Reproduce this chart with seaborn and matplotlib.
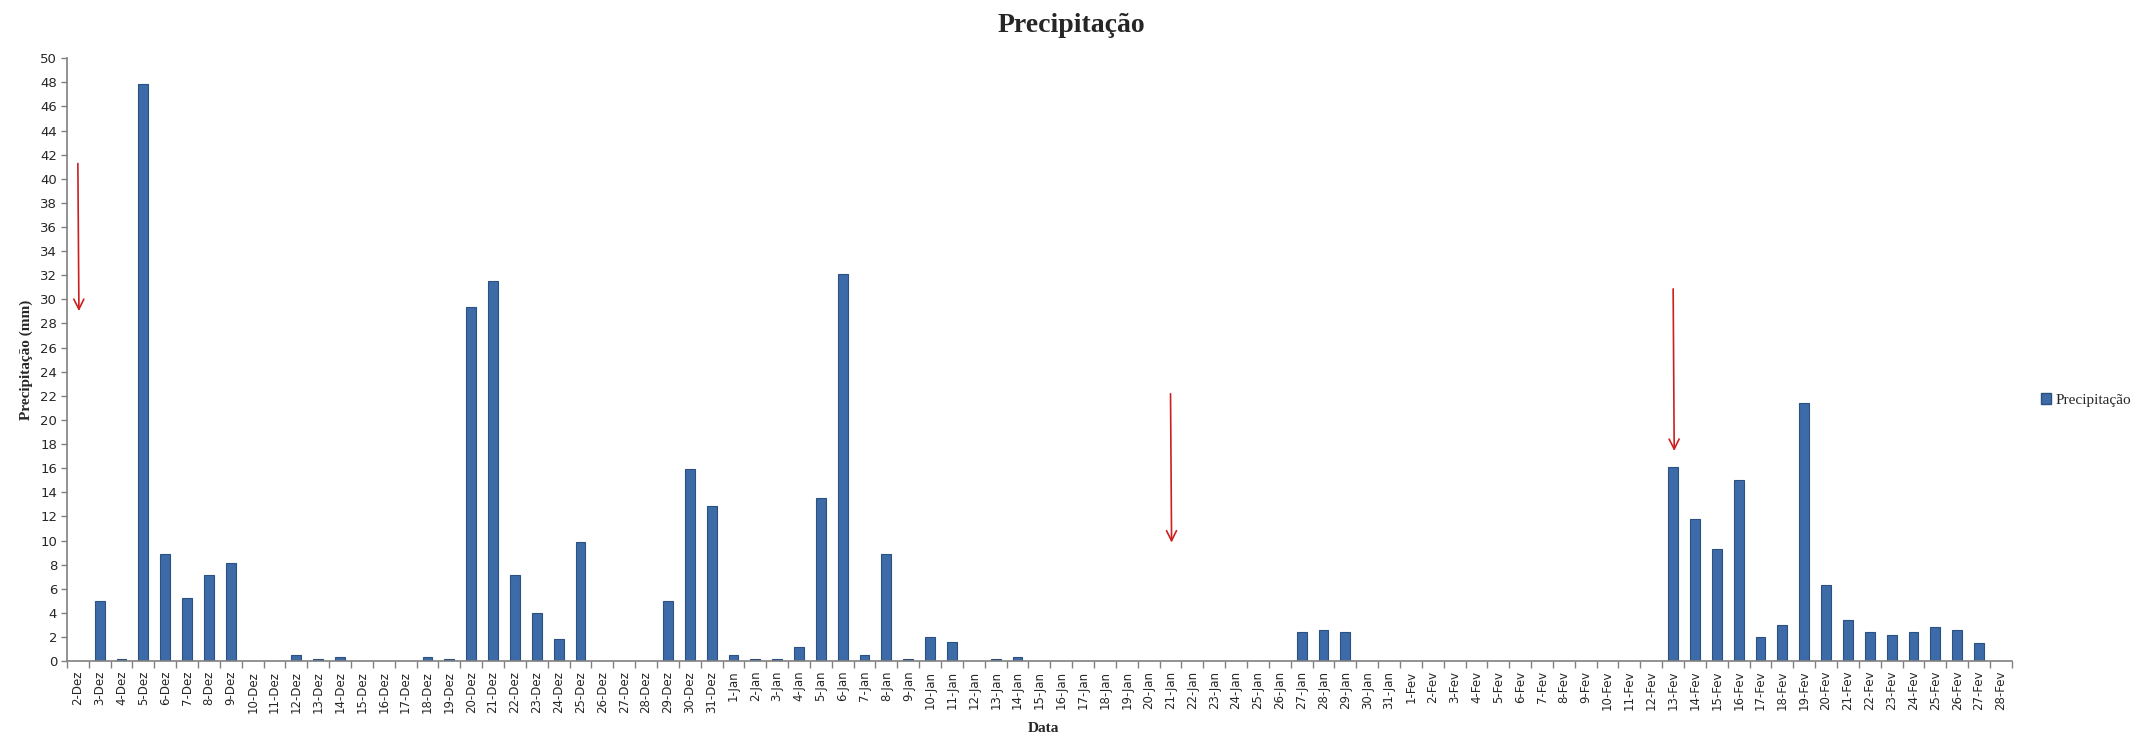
import numpy as np
import pandas as pd
import matplotlib
matplotlib.use("Agg")
import matplotlib.pyplot as plt
from matplotlib.patches import Patch
import seaborn as sns

# Daily dates, December to February
dez_days = [f"{d}-Dez" for d in range(2, 32)]
jan_days = [f"{d}-Jan" for d in range(1, 32)]
fev_days = [f"{d}-Fev" for d in range(1, 29)]
datas = dez_days + jan_days + fev_days

# Daily rainfall (mm)
chuva_dez = [0, 5.0, 0.2, 47.9, 8.9, 5.2, 7.1, 8.1, 0, 0,
             0.5, 0.15, 0.3, 0, 0, 0, 0.3, 0.15, 29.4, 31.5,
             7.1, 4.0, 1.8, 9.9, 0, 0, 0, 5.0, 15.9, 12.9]
chuva_jan = [0.5, 0.15, 0.15, 1.2, 13.5, 32.1, 0.5, 8.9, 0.15, 2.0,
             1.6, 0, 0.15, 0.3, 0, 0, 0, 0, 0, 0,
             0, 0, 0, 0, 0, 0, 2.4, 2.6, 2.4, 0, 0]
chuva_fev = [0, 0, 0, 0, 0, 0, 0, 0, 0, 0,
             0, 0, 16.1, 11.8, 9.3, 15.0, 2.0, 3.0, 21.4, 6.3,
             3.4, 2.4, 2.2, 2.4, 2.8, 2.6, 1.5, 0]
chuva = chuva_dez + chuva_jan + chuva_fev

# Highlighted days (arrow start/end values in mm)
destaques = ["2-Dez", "21-Jan", "13-Fev"]
seta_inicio = [41.5, 22.4, 31.1]
seta_fim = [28.8, 9.6, 17.2]

df = pd.DataFrame({"Data": datas, "Precipitação": chuva})

sns.set_theme(style="white")
plt.rcParams["font.family"] = ["DejaVu Sans"]

fig = plt.figure(figsize=(21.38, 7.37), dpi=100)
ax = fig.add_axes([0.0313, 0.103, 0.9097, 0.818])

cor_barra = "#3D6BA8"
sns.barplot(data=df, x="Data", y="Precipitação", color=cor_barra,
            width=0.45, saturation=1, edgecolor="#2B5183", linewidth=0.8, ax=ax)

ax.set_xlim(-0.5, len(datas) - 0.5)
ax.set_ylim(0, 50)
ax.set_yticks(np.arange(0, 51, 2))
ax.tick_params(axis="y", labelsize=9.5, length=4, width=1, color="#808080",
               left=True, pad=3)

# Category ticks: labels centred, tick marks on the boundaries
ax.set_xticks(np.arange(len(datas)))
ax.set_xticklabels(datas, rotation=90, fontsize=8.5)
ax.tick_params(axis="x", which="major", length=0, pad=7)
ax.set_xticks(np.arange(-0.5, len(datas), 1), minor=True)
ax.tick_params(axis="x", which="minor", length=5, width=1, color="#808080",
               bottom=True)

for s in ["top", "right"]:
    ax.spines[s].set_visible(False)
for s in ["left", "bottom"]:
    ax.spines[s].set_color("#808080")
    ax.spines[s].set_linewidth(1.2)

ax.set_xlabel("")
ax.set_ylabel("Precipitação (mm)", family="Liberation Serif", fontweight="bold",
              fontsize=11, labelpad=5)

fig.text(0.488, 0.012, "Data", family="Liberation Serif", fontweight="bold",
         fontsize=11, ha="center", va="center")
fig.text(0.501, 0.965, "Precipitação", family="Liberation Serif",
         fontweight="bold", fontsize=20, ha="center", va="center")

# Red arrows over the highlighted days
pos = {d: i for i, d in enumerate(datas)}
for d, y0, y1 in zip(destaques, seta_inicio, seta_fim):
    x = pos[d]
    ax.annotate("", xy=(x + 0.05, y1), xytext=(x, y0),
                arrowprops=dict(arrowstyle="->", color="#CC1F1F", lw=1.2,
                                mutation_scale=18))

handle = Patch(facecolor=cor_barra, edgecolor="#2B5183", label="Precipitação")
fig.legend(handles=[handle], loc="center left", bbox_to_anchor=(0.948, 0.457),
           frameon=False, handlelength=0.7, handleheight=0.7, handletextpad=0.3,
           prop={"family": "Liberation Serif", "size": 11})

fig.savefig("out.png", dpi=100)
